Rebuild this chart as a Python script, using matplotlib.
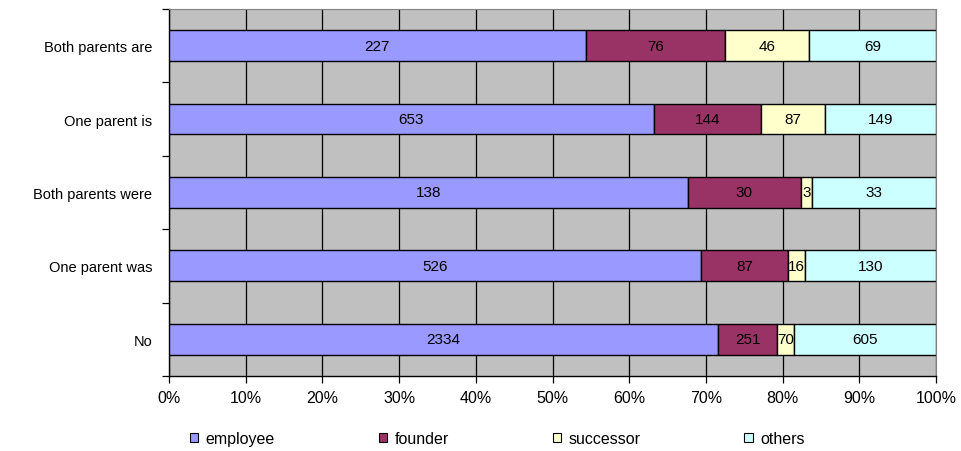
import numpy as np
import matplotlib.pyplot as plt
from matplotlib.ticker import FuncFormatter

plt.rcParams['font.family'] = ['Liberation Sans', 'DejaVu Sans']

categories = ["Both parents are", "One parent is", "Both parents were", "One parent was", "No"]
employee = [227, 653, 138, 526, 2334]
founder = [76, 144, 30, 87, 251]
successor = [46, 87, 3, 16, 70]
others = [69, 149, 33, 130, 605]

series = [("employee", employee, "#9999FF"),
          ("founder", founder, "#993366"),
          ("successor", successor, "#FFFFCC"),
          ("others", others, "#CCFFFF")]

counts = np.array([s[1] for s in series], dtype=float)
totals = counts.sum(axis=0)
shares = counts / totals * 100

fig = plt.figure(figsize=(9.62, 4.52), dpi=100)
ax = fig.add_axes([0.1757, 0.166, 0.7973, 0.812])
ax.set_facecolor("#C0C0C0")

# top category first
y = np.arange(len(categories))[::-1]
left = np.zeros(len(categories))
for i, (name, vals, color) in enumerate(series):
    ax.barh(y, shares[i], left=left, height=0.42, color=color,
            edgecolor="black", linewidth=1.0, label=name, zorder=3)
    for yy, l, w, v in zip(y, left, shares[i], vals):
        ax.text(l + w / 2, yy, str(v), ha="center", va="center",
                fontsize=11, color="black", zorder=4)
    left += shares[i]

ax.set_xlim(0, 100)
ax.set_ylim(-0.5, len(categories) - 0.5)
ax.set_xticks(np.arange(0, 101, 10))
ax.xaxis.set_major_formatter(FuncFormatter(lambda v, p: f"{v:.0f}%"))
ax.xaxis.grid(True, color="black", linewidth=0.9, zorder=1)
ax.set_axisbelow(True)

# category labels centred, ticks on the band boundaries
ax.set_yticks(y)
ax.set_yticklabels(categories)
ax.set_yticks(np.arange(-0.5, len(categories), 1), minor=True)
ax.tick_params(axis="y", which="major", length=0, pad=12, labelsize=10.5)
ax.tick_params(axis="y", which="minor", length=5, width=0.9, direction="out")
ax.tick_params(axis="x", length=5, width=0.9, direction="out", pad=5, labelsize=11.5)

for side in ("left", "bottom"):
    ax.spines[side].set_color("black")
    ax.spines[side].set_linewidth(1.0)
for side in ("top", "right"):
    ax.spines[side].set_color("#808080")
    ax.spines[side].set_linewidth(0.8)

leg = fig.legend(loc="center left", bbox_to_anchor=(0.197, 0.027), ncol=4, frameon=False,
                 fontsize=11.5, handlelength=0.55, handleheight=0.55, handletextpad=0.45,
                 columnspacing=6.5, borderpad=0, borderaxespad=0)
for h in leg.legend_handles:
    h.set_linewidth(0.8)

fig.savefig("out.png", dpi=100)
